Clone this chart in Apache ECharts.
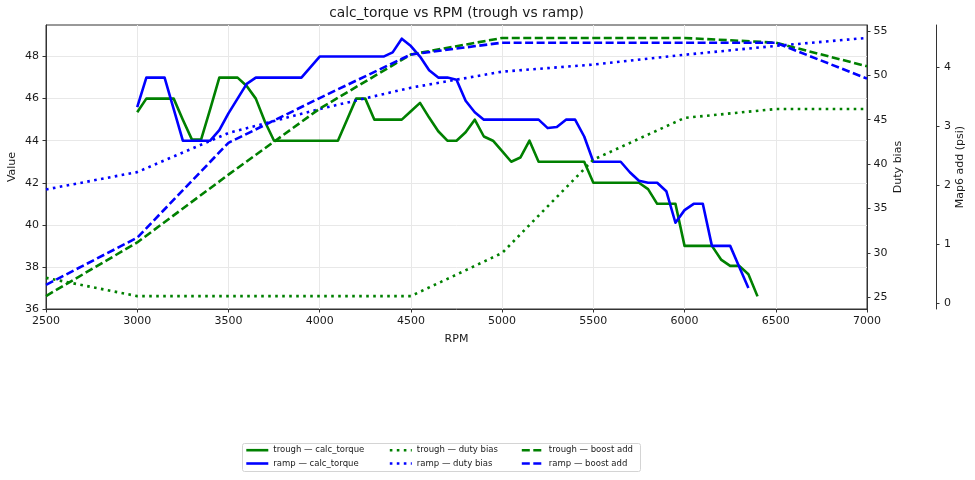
<!DOCTYPE html>
<html><head><meta charset="utf-8">
<script src="https://cdn.jsdelivr.net/npm/echarts@6/dist/echarts.min.js"></script>
<style>html,body{margin:0;padding:0;background:#fff}#c{width:975px;height:480px}</style>
</head><body><div id="c"></div>
<script>
// ---- data ----
const rpmTroughTorque = [3000,3050,3100,3150,3200,3250,3300,3350,3400,3450,3500,3550,3600,3650,3700,3750,3800,3850,3900,3950,4000,4050,4100,4150,4200,4250,4300,4350,4400,4450,4500,4550,4600,4650,4700,4750,4800,4850,4900,4950,5000,5050,5100,5150,5200,5250,5300,5350,5400,5450,5500,5550,5600,5650,5700,5750,5800,5850,5900,5950,6000,6050,6100,6150,6200,6250,6300,6350,6400];
const troughTorque = [45.35,46,46,46,46,45,44.05,44.05,45.5,47,47,47,46.6,46,44.9,44,44,44,44,44,44,44,44,45,46,46,45,45,45,45,45.4,45.8,45.1,44.45,44,44,44.4,45,44.2,44,43.5,43,43.2,44,43,43,43,43,43,43,42,42,42,42,42,42,41.7,41,41,41,39,39,39,39,38.35,38.05,38.05,37.65,36.6];
const rpmRampTorque = [3000,3050,3100,3150,3200,3250,3300,3350,3400,3450,3500,3550,3600,3650,3700,3750,3800,3850,3900,3950,4000,4050,4100,4150,4200,4250,4300,4350,4400,4450,4500,4550,4600,4650,4700,4750,4800,4850,4900,4950,5000,5050,5100,5150,5200,5250,5300,5350,5400,5450,5500,5550,5600,5650,5700,5750,5800,5850,5900,5950,6000,6050,6100,6150,6200,6250,6300,6350];
const rampTorque = [45.6,47,47,47,45.5,44,44,44,44,44.5,45.3,46,46.7,47,47,47,47,47,47,47.5,48,48,48,48,48,48,48,48,48.2,48.85,48.5,48,47.35,47,47,46.9,45.9,45.35,45,45,45,45,45,45,45,44.6,44.65,45,45,44.2,43,43,43,43,42.5,42.1,42,42,41.6,40.1,40.7,41,41,39,39,39,38,37];
const rpmCoarse = [2500,3000,3500,4000,4500,5000,5500,6000,6500,7000];
const troughDuty = [27.2,25.15,25.15,25.15,25.15,30,40.5,45.2,46.2,46.2];
const rampDuty = [37.15,39.1,43.5,46.2,48.6,50.4,51.2,52.3,53.3,54.2];
const troughBoost = [0.12,1.03,2.18,3.3,4.22,4.5,4.5,4.5,4.42,4.02];
const rampBoost = [0.31,1.11,2.72,3.48,4.22,4.42,4.42,4.42,4.42,3.81];
const valueTicks = [36,38,40,42,44,46,48];
const dutyTicks = [25,30,35,40,45,50,55];
const psiTicks = [0,1,2,3,4];
const names = ['trough — calc_torque','ramp — calc_torque','trough — duty bias','ramp — duty bias','trough — boost add','ramp — boost add'];

const zip = (xs, ys) => xs.map((x, i) => [x, ys[i]]);
const FONT = 'DejaVu Sans';
const TXT = '#1a1a1a';
const AX = '#333';
const GREEN = '#008000', BLUE = '#0000ff';
const DASH = [8, 3.5], DOT = [2.6, 4.4];

function mkSeries(name, xs, ys, color, type, yIdx) {
  return {
    name, type: 'line', data: zip(xs, ys), yAxisIndex: yIdx,
    symbol: 'none', showSymbol: false, smooth: false, animation: false,
    color: color,
    lineStyle: { color, width: 2.6, type: type, join: 'round', cap: 'butt' },
    emphasis: { disabled: true }
  };
}
const legendBase = {
  orient: 'vertical', top: 445.7, itemWidth: 22, itemHeight: 10, itemGap: 4.3,
  padding: 0, selectedMode: false,
  itemStyle: { color: 'transparent', borderColor: 'transparent', borderWidth: 0, opacity: 0 },
  lineStyle: { width: 2.6 },
  textStyle: { fontSize: 8.5, color: TXT, fontFamily: FONT }
};

const chart = echarts.init(document.getElementById('c'), null, { renderer: 'canvas' });
chart.setOption({
  animation: false,
  backgroundColor: '#fff',
  textStyle: { fontFamily: FONT },
  title: {
    text: 'calc_torque vs RPM (trough vs ramp)', left: 456.5, top: 6.5, padding: 0,
    textAlign: 'center',
    textStyle: { fontSize: 13.8, fontWeight: 'normal', color: TXT, fontFamily: FONT }
  },
  grid: { left: 46, right: 108, top: 25, bottom: 171, show: true, borderColor: AX, borderWidth: 1, containLabel: false, outerBoundsMode: 'none' },
  legend: [
    Object.assign({}, legendBase, { left: 245, data: [names[0], names[1]] }),
    Object.assign({}, legendBase, { left: 388.5, data: [names[2], names[3]] }),
    Object.assign({}, legendBase, { left: 520.5, data: [names[4], names[5]] })
  ],
  graphic: [{
    type: 'rect', z: 100, silent: true,
    shape: { x: 242.5, y: 443.5, width: 398, height: 28, r: 2 },
    style: { fill: 'transparent', stroke: '#d4d4d4', lineWidth: 1 }
  }],
  xAxis: {
    type: 'value', min: 2500, max: 7000, interval: 500,
    name: 'RPM', nameLocation: 'middle', nameGap: 25, nameMoveOverlap: false,
    nameTextStyle: { fontSize: 11, color: TXT, fontFamily: FONT },
    axisLine: { show: true, onZero: false, lineStyle: { color: AX, width: 1 } },
    axisTick: { show: true, length: 3.5, lineStyle: { color: AX } },
    axisLabel: { fontSize: 11, color: TXT, margin: 7, fontFamily: FONT, formatter: v => String(v) },
    splitLine: { show: true, lineStyle: { color: '#e8e8e8', width: 1 } }
  },
  yAxis: [
    {
      type: 'value', position: 'left', min: 36, max: 49.5, interval: 2,
      name: 'Value', nameLocation: 'middle', nameGap: 28.5, nameRotate: 90, nameMoveOverlap: false,
      nameTextStyle: { fontSize: 11, color: TXT, fontFamily: FONT },
      axisLine: { show: true, onZero: false, lineStyle: { color: AX } },
      axisTick: { show: true, length: 3.5, lineStyle: { color: AX }, customValues: valueTicks },
      axisLabel: { fontSize: 11, color: TXT, margin: 7, customValues: valueTicks, fontFamily: FONT, formatter: v => String(v) },
      splitLine: { show: true, lineStyle: { color: '#e8e8e8', width: 1 } }
    },
    {
      type: 'value', position: 'right', min: 23.7, max: 55.65,
      name: 'Duty bias', nameLocation: 'middle', nameGap: 25.5, nameRotate: 90, nameMoveOverlap: false,
      nameTextStyle: { fontSize: 11, color: TXT, fontFamily: FONT },
      axisLine: { show: true, onZero: false, lineStyle: { color: AX } },
      axisTick: { show: true, length: 3.5, lineStyle: { color: AX }, customValues: dutyTicks },
      axisLabel: { fontSize: 11, color: TXT, margin: 6.5, customValues: dutyTicks, fontFamily: FONT, formatter: v => String(v) },
      splitLine: { show: false }
    },
    {
      type: 'value', position: 'right', offset: 69, min: -0.1, max: 4.72,
      name: 'Map6 add (psi)', nameLocation: 'middle', nameGap: 18.5, nameRotate: 90, nameMoveOverlap: false,
      nameTextStyle: { fontSize: 11, color: TXT, fontFamily: FONT },
      axisLine: { show: true, onZero: false, lineStyle: { color: AX } },
      axisTick: { show: true, length: 3.5, lineStyle: { color: AX }, customValues: psiTicks },
      axisLabel: { fontSize: 11, color: TXT, margin: 8, customValues: psiTicks, fontFamily: FONT, formatter: v => String(v) },
      splitLine: { show: false }
    }
  ],
  series: [
    mkSeries(names[0], rpmTroughTorque, troughTorque, GREEN, 'solid', 0),
    mkSeries(names[1], rpmRampTorque, rampTorque, BLUE, 'solid', 0),
    mkSeries(names[2], rpmCoarse, troughDuty, GREEN, DOT, 1),
    mkSeries(names[3], rpmCoarse, rampDuty, BLUE, DOT, 1),
    mkSeries(names[4], rpmCoarse, troughBoost, GREEN, DASH, 2),
    mkSeries(names[5], rpmCoarse, rampBoost, BLUE, DASH, 2)
  ]
});
</script>
</body></html>
